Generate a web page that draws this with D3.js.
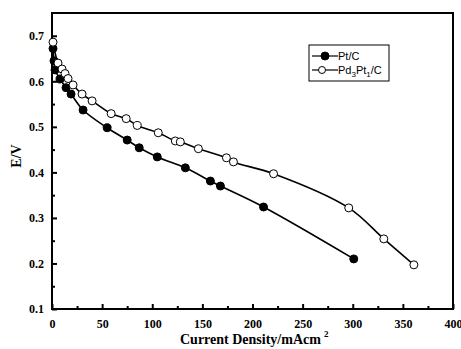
<!DOCTYPE html>
<html>
<head>
<meta charset="utf-8">
<script src="https://cdn.jsdelivr.net/npm/d3@7"></script>
<style>
  body { margin: 0; background: #fff; }
  #chart svg { display: block; }
</style>
</head>
<body>
<div id="chart"></div>
<script>
// current density (mA cm^-2) / potential (V)
const ptcX = [1, 2, 3, 8, 14, 19, 31, 55, 75, 87, 105, 133, 158, 168, 211, 301];
const ptcY = [0.672, 0.645, 0.625, 0.605, 0.586, 0.572, 0.537, 0.498, 0.471, 0.454, 0.434, 0.410, 0.381, 0.370, 0.324, 0.210];

const pdptX = [1, 6, 10, 13, 16, 21, 30, 40, 59, 74, 85, 106, 123, 128, 146, 174, 181, 221, 296, 331, 361];
const pdptY = [0.686, 0.640, 0.627, 0.617, 0.606, 0.592, 0.572, 0.557, 0.529, 0.518, 0.503, 0.487, 0.469, 0.467, 0.452, 0.432, 0.423, 0.397, 0.322, 0.254, 0.197];

const xTicks = [0, 50, 100, 150, 200, 250, 300, 350, 400];
const yTicks = [0.1, 0.2, 0.3, 0.4, 0.5, 0.6, 0.7];

const width = 461, height = 349;
const margin = {top: 13, right: 8, bottom: 40, left: 52};
const serif = "'Liberation Serif', 'Times New Roman', serif";

const x = d3.scaleLinear().domain([0, 400]).range([margin.left, width - margin.right]);
const y = d3.scaleLinear().domain([0.1, 0.75]).range([height - margin.bottom, margin.top]);

const svg = d3.select("#chart").append("svg")
  .attr("width", width)
  .attr("height", height);

// frame
svg.append("rect")
  .attr("x", x(0))
  .attr("y", y(0.75))
  .attr("width", x(400) - x(0))
  .attr("height", y(0.1) - y(0.75))
  .attr("fill", "none")
  .attr("stroke", "#000")
  .attr("stroke-width", 2);

// x axis, ticks pointing inward
svg.append("g")
  .attr("transform", `translate(0, ${y(0.1)})`)
  .call(d3.axisBottom(x).tickValues(xTicks).tickSize(-5).tickPadding(10).tickFormat(d3.format("d")));
svg.append("g")
  .attr("transform", `translate(0, ${y(0.1)})`)
  .call(d3.axisBottom(x).tickValues(d3.range(25, 400, 50)).tickSize(-3).tickFormat(""));

// y axis
svg.append("g")
  .attr("transform", `translate(${x(0)}, 0)`)
  .call(d3.axisLeft(y).tickValues(yTicks).tickSize(-5).tickPadding(8).tickFormat(d3.format(".1f")));
svg.append("g")
  .attr("transform", `translate(${x(0)}, 0)`)
  .call(d3.axisLeft(y).tickValues([0.15, 0.25, 0.35, 0.45, 0.55, 0.65]).tickSize(-3).tickFormat(""));

svg.selectAll(".domain").remove();
svg.selectAll(".tick line").attr("stroke", "#000").attr("stroke-width", 2);
svg.selectAll(".tick text")
  .style("font-family", serif)
  .style("font-weight", "bold")
  .style("font-size", "12px")
  .attr("fill", "#000");

// axis titles
svg.append("text")
  .attr("transform", `translate(21, ${(y(0.1) + y(0.75)) / 2 - 5}) rotate(-90)`)
  .attr("text-anchor", "middle")
  .style("font-family", serif)
  .style("font-weight", "bold")
  .style("font-size", "14px")
  .text("E/V");

const xt = svg.append("text")
  .attr("x", 180)
  .attr("y", 344)
  .style("font-family", serif)
  .style("font-weight", "bold")
  .style("font-size", "14px")
  .text("Current Density/mAcm");
xt.append("tspan")
  .attr("dx", 3)
  .attr("dy", -7)
  .style("font-size", "9px")
  .text("2");

// series
const line = d3.line()
  .x(d => x(d[0]))
  .y(d => y(d[1]))
  .curve(d3.curveCatmullRom);

const series = [
  {name: "Pt/C", pts: d3.zip(ptcX, ptcY), fill: "#000"},
  {name: "Pd3Pt1/C", pts: d3.zip(pdptX, pdptY), fill: "#fff"}
];

series.forEach(s => {
  svg.append("path")
    .datum(s.pts)
    .attr("d", line)
    .attr("fill", "none")
    .attr("stroke", "#000")
    .attr("stroke-width", 1.6);
});
series.forEach(s => {
  svg.append("g").selectAll("circle").data(s.pts)
    .join("circle")
    .attr("cx", d => x(d[0]))
    .attr("cy", d => y(d[1]))
    .attr("r", 4)
    .attr("fill", s.fill)
    .attr("stroke", "#000")
    .attr("stroke-width", 1);
});

// legend
const lg = svg.append("g").attr("transform", "translate(309, 45)");
lg.append("rect")
  .attr("width", 80).attr("height", 36)
  .attr("fill", "#fff").attr("stroke", "#000").attr("stroke-width", 1);
[0, 1].forEach(i => {
  const ly = 11 + i * 14;
  lg.append("line").attr("x1", 3).attr("x2", 29).attr("y1", ly).attr("y2", ly)
    .attr("stroke", "#000").attr("stroke-width", 1.2);
  lg.append("circle").attr("cx", i ? 13 : 16).attr("cy", ly).attr("r", i ? 3.5 : 4)
    .attr("fill", series[i].fill).attr("stroke", "#000");
});
const lt = lg.append("g")
  .style("font-family", "'Liberation Sans', Arial, sans-serif")
  .style("font-size", "11px");
lt.append("text").attr("x", 29).attr("y", 15).text("Pt/C");
const t2 = lt.append("text").attr("x", 29).attr("y", 29);
t2.append("tspan").text("Pd");
t2.append("tspan").style("font-size", "8px").attr("dy", 3).text("3");
t2.append("tspan").attr("dy", -3).text("Pt");
t2.append("tspan").style("font-size", "8px").attr("dy", 3).text("1");
t2.append("tspan").attr("dy", -3).text("/C");
</script>
</body>
</html>
